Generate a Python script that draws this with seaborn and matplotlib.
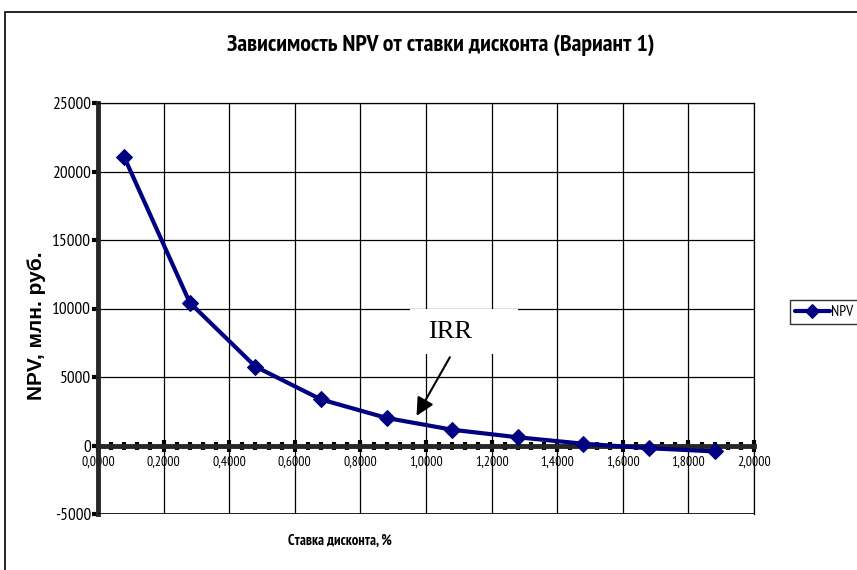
import numpy as np
import pandas as pd
import seaborn as sns
import matplotlib.pyplot as plt
from matplotlib.patches import Rectangle
from matplotlib.ticker import MultipleLocator, FuncFormatter

# Discount rate and NPV values
rates = [0.08, 0.28, 0.48, 0.68, 0.88, 1.08, 1.28, 1.48, 1.68, 1.88]
npv = [21050, 10420, 5760, 3360, 2010, 1150, 600, 130, -200, -430]

title = "Зависимость NPV от ставки дисконта (Вариант 1)"
x_label = "Ставка дисконта, %"
y_label = "NPV, млн. руб."
series_name = "NPV"

NARROW = ["PT Sans Narrow", "Liberation Sans", "DejaVu Sans"]
SANS = ["Liberation Sans", "DejaVu Sans"]
SERIF = ["Liberation Serif", "DejaVu Serif"]
NAVY = "#000080"


def main():
    sns.set_theme(style="white")
    plt.rcParams["font.family"] = NARROW
    for k in ["text.color", "axes.labelcolor", "xtick.color", "ytick.color"]:
        plt.rcParams[k] = "black"

    data = pd.DataFrame({"rate": rates, series_name: npv})

    fig = plt.figure(figsize=(8.57, 5.70), dpi=100)
    fig.patch.set_facecolor("white")
    # chart area frame (extends past the right/bottom edges)
    fig.add_artist(Rectangle((5 / 857, -0.05), 1.0, 1 - 12 / 570 + 0.05,
                             transform=fig.transFigure, fill=False,
                             edgecolor="black", linewidth=1.2))

    ax = fig.add_axes([98 / 857, 1 - 514 / 570, 656 / 857, 411 / 570])
    ax.set_xlim(0, 2.0)
    ax.set_ylim(-5000, 25000)

    sns.lineplot(data=data, x="rate", y=series_name, ax=ax, color=NAVY,
                 linewidth=3, marker="D", markersize=8,
                 markeredgecolor=NAVY, label=series_name, zorder=5)

    # grid
    ax.xaxis.set_major_locator(MultipleLocator(0.2))
    ax.xaxis.set_minor_locator(MultipleLocator(0.04))
    ax.yaxis.set_major_locator(MultipleLocator(5000))
    ax.grid(True, which="major", color="black", linewidth=0.9)

    # spines: horizontal axis crosses at NPV = 0
    ax.spines["bottom"].set_position(("data", 0))
    ax.spines["bottom"].set_linewidth(3.5)
    ax.spines["left"].set_linewidth(3.5)
    ax.spines["bottom"].set_zorder(4)
    for s in ["top", "right"]:
        ax.spines[s].set_linewidth(0.9)
        ax.spines[s].set_color("black")
    ax.axhline(-5000, color="black", linewidth=1.2, zorder=3)

    ax.tick_params(axis="x", which="major", direction="inout", length=9,
                   width=3, color="black", bottom=True, labelsize=10, pad=3)
    ax.tick_params(axis="x", which="minor", direction="inout", length=6,
                   width=3, color="black", bottom=True)
    ax.tick_params(axis="y", which="major", direction="out", length=4,
                   width=3, color="black", left=True, labelsize=12.5, pad=1)

    ax.xaxis.set_major_formatter(FuncFormatter(lambda v, p: f"{v:.4f}".replace(".", ",")))
    ax.yaxis.set_major_formatter(FuncFormatter(lambda v, p: f"{v:.0f}"))

    ax.set_xlabel("")
    ax.set_ylabel("")
    fig.text(0.397, 1 - 541 / 570, x_label, ha="center", va="center",
             fontsize=10.5, fontweight="bold", family=NARROW)
    fig.text(37 / 857, 1 - 326 / 570, y_label, ha="center", va="center",
             rotation=90, fontsize=15, fontweight="bold", family=SANS)
    fig.text(441 / 857, 1 - 45 / 570, title, ha="center", va="center",
             fontsize=17.2, fontweight="bold", family=NARROW)

    # IRR label box and arrow
    ax.add_patch(Rectangle((0.95, 6690), 0.33, 3310, facecolor="white",
                           edgecolor="none", zorder=3))
    ax.text(1.072, 8250, "IRR", ha="center", va="center", fontsize=19,
            family=SERIF, zorder=6)
    ax.annotate("", xy=(0.967, 1985), xytext=(1.077, 6620),
                arrowprops=dict(arrowstyle="-|>,head_length=0.9,head_width=0.45",
                                color="black", linewidth=1.5),
                zorder=6)

    leg = ax.legend(loc="center left", bbox_to_anchor=(790 / 857, 1 - 312 / 570),
                    bbox_transform=fig.transFigure, frameon=True, fancybox=False,
                    edgecolor="black", fontsize=11, handlelength=2.3,
                    handletextpad=0.1, borderpad=0.3, borderaxespad=0)
    leg.get_frame().set_linewidth(1.0)
    for h in leg.legend_handles:
        h.set_markersize(7)

    fig.savefig("out.png", dpi=100)


if __name__ == "__main__":
    main()
